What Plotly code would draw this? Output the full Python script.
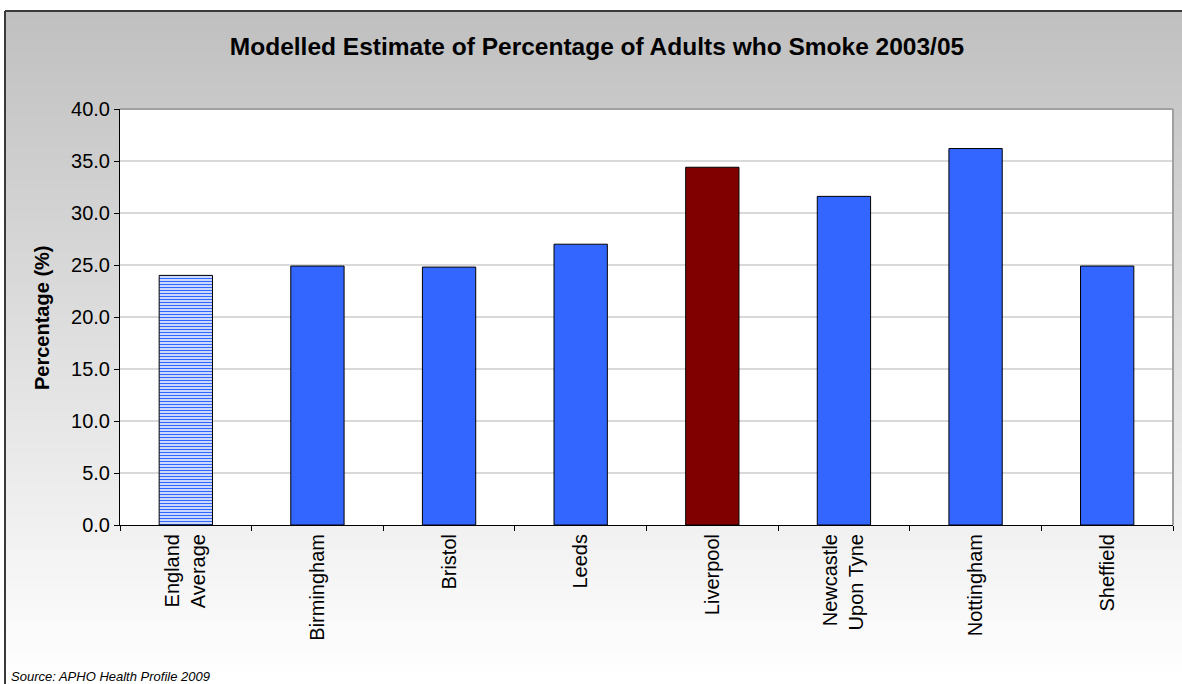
import plotly.graph_objects as go

categories = ["England<br>Average", "Birmingham", "Bristol", "Leeds", "Liverpool",
              "Newcastle<br>Upon Tyne", "Nottingham", "Sheffield"]
values = [24.0, 24.9, 24.8, 27.0, 34.4, 31.6, 36.2, 24.9]
bar_colors = ["#3366ff", "#3366ff", "#3366ff", "#3366ff", "#800000", "#3366ff", "#3366ff", "#3366ff"]
y_ticks = [0, 5, 10, 15, 20, 25, 30, 35, 40]

W, H = 1182, 684
L, R, T, B = 120, 9, 109, 159
PW, PH = W - L - R, H - T - B


def xp(px):
    return (px - L) / PW


def yp(py):
    return (H - B - py) / PH


fig = go.Figure()
# England average: striped bar
fig.add_trace(go.Bar(
    x=categories[:1], y=values[:1],
    marker=dict(
        color="#ffffff",
        line=dict(color="#000000", width=1),
        pattern=dict(shape="-", fgcolor=bar_colors[0], bgcolor="#ffffff",
                     size=3, solidity=0.5, fillmode="replace"),
    ),
    width=0.405,
    hoverinfo="x+y",
))
# cities
fig.add_trace(go.Bar(
    x=categories[1:], y=values[1:],
    marker=dict(color=bar_colors[1:], line=dict(color="#000000", width=1)),
    width=0.405,
    hoverinfo="x+y",
))

shapes = []
# gradient background
top_px, bot_px = 11, H
n = 64
for i in range(n):
    a = top_px + (bot_px - top_px) * i / n
    b = top_px + (bot_px - top_px) * (i + 1) / n + 1
    g = int(round(192 + (255 - 192) * (i + 0.5) / n))
    col = f"rgb({g},{g},{g})"
    shapes.append(dict(type="rect", xref="paper", yref="paper",
                       x0=xp(5), x1=xp(W + 5), y0=yp(b), y1=yp(a),
                       fillcolor=col, line=dict(width=0), layer="below"))
# white plot area
shapes.append(dict(type="rect", xref="paper", yref="paper", x0=0, x1=1, y0=0, y1=1,
                   fillcolor="#ffffff", line=dict(width=0), layer="below"))
# outer border (top + left)
shapes.append(dict(type="line", xref="paper", yref="paper", x0=xp(5), x1=xp(W + 5),
                   y0=yp(11), y1=yp(11), line=dict(color="#3a3a3a", width=2)))
shapes.append(dict(type="line", xref="paper", yref="paper", x0=xp(5), x1=xp(5),
                   y0=yp(11), y1=yp(H + 5), line=dict(color="#3a3a3a", width=2)))
# plot area top/right border
shapes.append(dict(type="line", xref="paper", yref="paper", x0=0, x1=1, y0=1, y1=1,
                   line=dict(color="#a0a0a0", width=2)))
shapes.append(dict(type="line", xref="paper", yref="paper", x0=1, x1=1, y0=0, y1=1,
                   line=dict(color="#a0a0a0", width=2)))

fig.update_layout(
    width=W, height=H,
    margin=dict(l=L, r=R, t=T, b=B),
    paper_bgcolor="#ffffff",
    plot_bgcolor="#ffffff",
    font=dict(family="Liberation Sans, Arial, sans-serif", color="#000000", size=20),
    showlegend=False,
    barmode="overlay",
    shapes=shapes,
    title=dict(text="<b>Modelled Estimate of Percentage of Adults who Smoke 2003/05</b>",
               x=xp(597), xref="paper", xanchor="center",
               y=1 - 46 / H, yref="container", yanchor="middle",
               font=dict(size=24.5, family="Liberation Sans, Arial, sans-serif")),
    xaxis=dict(
        type="category", categoryorder="array", categoryarray=categories,
        tickson="boundaries", ticks="outside", ticklen=5,
        tickcolor="#000000", tickwidth=1, showline=True, linecolor="#000000",
        linewidth=1, tickangle=-90, showgrid=False,
        tickfont=dict(size=20),
    ),
    yaxis=dict(
        range=[0, 40], tickvals=y_ticks, tickformat=".1f",
        ticks="outside", ticklen=5, tickcolor="#000000", tickwidth=1,
        showline=True, linecolor="#000000", linewidth=1,
        showgrid=True, gridcolor="#d9d9d9", gridwidth=1.5, zeroline=False,
        tickfont=dict(size=20),
    ),
    annotations=[
        dict(text="<b>Percentage (%)</b>", xref="paper", yref="paper",
             x=xp(42), y=yp(318), textangle=-90, showarrow=False,
             xanchor="center", yanchor="middle", font=dict(size=20)),
        dict(text="<i>Source: APHO Health Profile 2009</i>", xref="paper", yref="paper",
             x=xp(9), y=yp(676), showarrow=False, xanchor="left", yanchor="middle",
             font=dict(size=13)),
    ],
)

fig.write_html("out.html", config={"displayModeBar": False},
               post_script="document.body.style.margin='0';document.body.style.overflow='hidden';")
